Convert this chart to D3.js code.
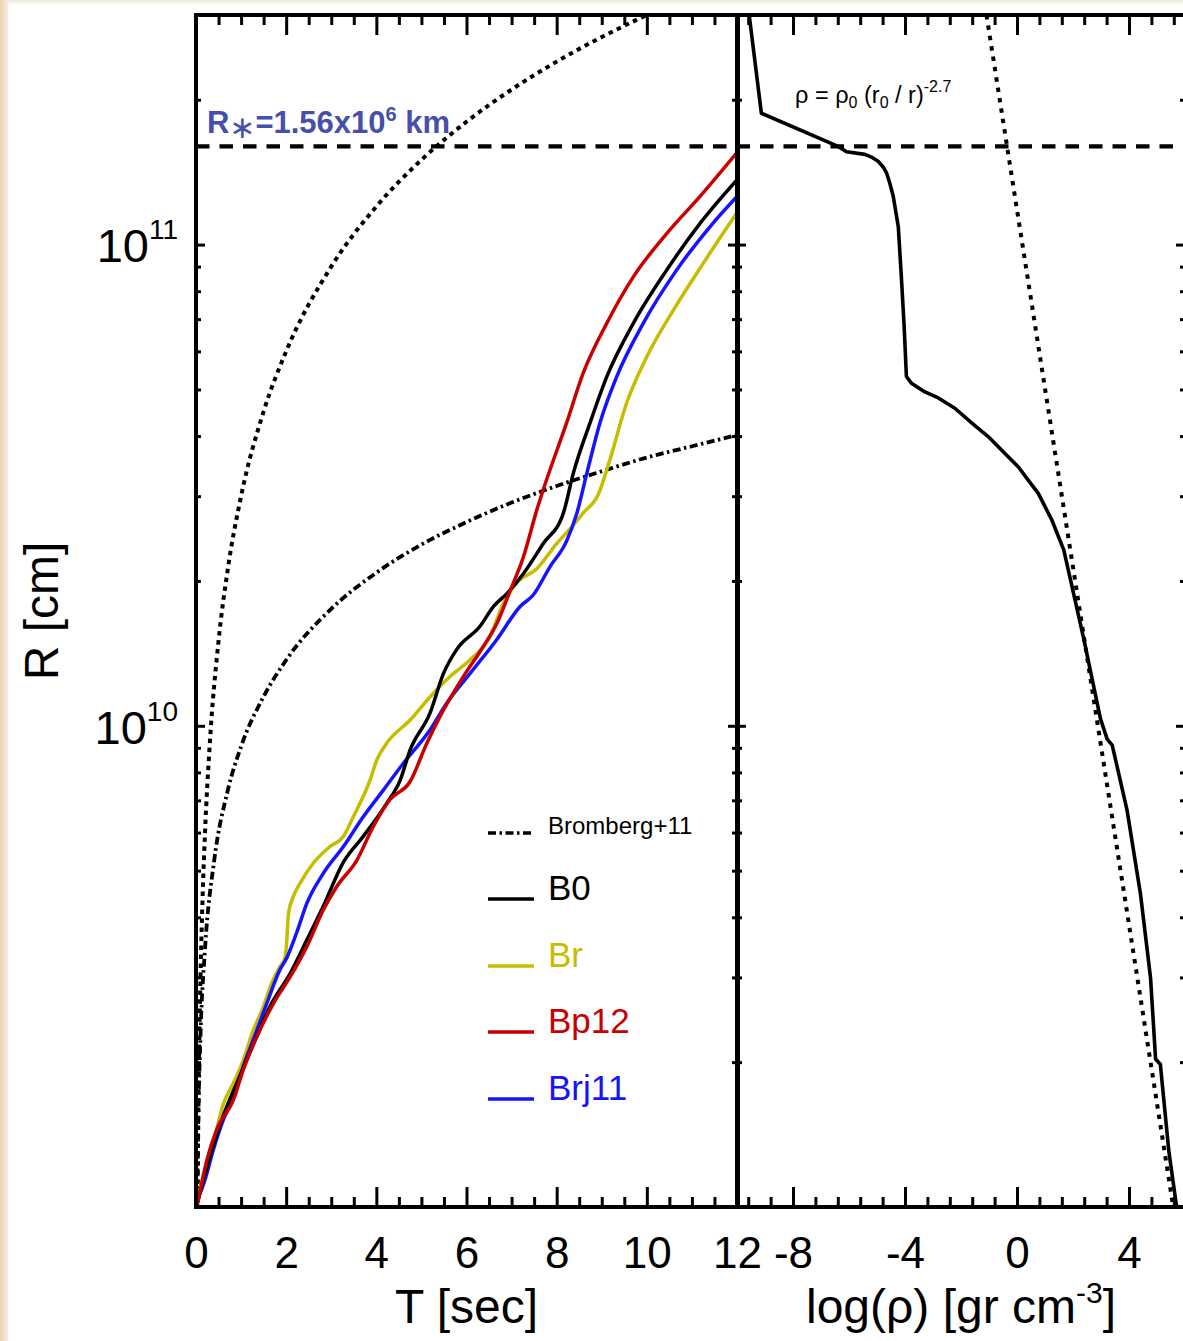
<!DOCTYPE html>
<html><head><meta charset="utf-8">
<script src="https://cdn.jsdelivr.net/npm/d3@7"></script>
<style>
html,body{margin:0;padding:0;background:#fff;}
#frame{position:relative;width:1183px;height:1341px;overflow:hidden;background:#fff;}
#edgeL{position:absolute;left:0;top:0;width:8px;height:1341px;background:linear-gradient(to right,#ecd3b2,#f7ede1);}
#edgeT{position:absolute;left:0;top:0;width:1183px;height:4px;background:linear-gradient(to bottom,#f1e8dd,#fcfaf7);}
svg{position:absolute;left:0;top:0;}
text{font-family:"Liberation Sans",Arial,Helvetica,sans-serif;}
</style></head><body>
<div id="frame"><div id="edgeT"></div><div id="edgeL"></div></div>
<script>
// ---------------- data ----------------
const tickT = [0, 2, 4, 6, 8, 10, 12];
const tickLogRho = [-8, -4, 0, 4];
const yTickValues = [1e10, 1e11];
const yTickBase = ["10", "10"];
const yTickExp = ["10", "11"];
const Rstar = 1.6e11;
const RstarLabel = ["R", "\u2217", "=1.56x10", "6", " km"];

// B0 (black)
const t_B0 = [0.02,0.20,0.53,0.98,1.31,1.64,2.09,2.46,2.82,3.27,3.71,4.23,4.53,4.75,5.19,5.49,5.78,6.30,6.60,6.89,7.26,7.70,8.15,8.37,8.74,9.11,9.70,10.44,11.18,11.99];
const R_B0 = [1.01e9,1.17e9,1.48e9,1.88e9,2.22e9,2.61e9,3.06e9,3.59e9,4.21e9,5.21e9,5.89e9,6.90e9,7.71e9,8.91e9,1.062e10,1.285e10,1.44e10,1.61e10,1.77e10,1.88e10,2.07e10,2.39e10,2.77e10,3.35e10,4.26e10,5.31e10,6.86e10,8.85e10,1.107e11,1.36e11];
// Br (yellow)
const t_Br = [0.05,0.16,0.38,0.61,0.83,1.05,1.27,1.46,1.68,1.86,1.97,2.01,2.05,2.16,2.31,2.60,2.97,3.27,3.49,3.86,4.01,4.23,4.75,5.19,5.63,6.08,6.52,6.82,7.11,7.56,8.00,8.30,8.59,8.92,9.18,9.55,10.00,10.59,11.25,11.99];
const R_Br = [1.05e9,1.16e9,1.36e9,1.64e9,1.81e9,2.02e9,2.33e9,2.56e9,2.92e9,3.16e9,3.29e9,3.53e9,4.07e9,4.42e9,4.71e9,5.18e9,5.61e9,5.89e9,6.47e9,7.71e9,8.49e9,9.20e9,1.028e10,1.148e10,1.265e10,1.371e10,1.531e10,1.80e10,1.98e10,2.12e10,2.39e10,2.57e10,2.77e10,3.02e10,3.57e10,4.68e10,5.85e10,7.31e10,9.14e10,1.161e11];
// Bp12 (red)
const t_Bp12 = [0.02,0.24,0.46,0.83,1.05,1.35,1.72,2.09,2.46,2.82,3.12,3.57,3.93,4.30,4.75,5.12,5.41,5.93,6.37,6.67,6.97,7.26,7.56,7.70,8.22,8.59,9.11,9.70,10.44,11.18,11.99];
const R_Bp12 = [1.00e9,1.25e9,1.45e9,1.67e9,1.93e9,2.26e9,2.65e9,3.01e9,3.48e9,4.14e9,4.63e9,5.26e9,6.17e9,7.02e9,7.66e9,9.20e9,1.045e10,1.265e10,1.46e10,1.63e10,1.91e10,2.24e10,2.81e10,3.09e10,4.26e10,5.41e10,6.86e10,8.57e10,1.054e11,1.26e11,1.55e11];
// Brj11 (blue)
const t_Brj11 = [0.02,0.20,0.38,0.61,0.83,1.05,1.35,1.57,1.86,2.01,2.23,2.46,2.82,3.27,3.71,4.16,4.60,5.19,5.56,6.08,6.67,7.19,7.48,7.85,8.22,8.45,8.67,8.96,9.33,9.92,10.66,11.40,11.99];
const R_Brj11 = [1.03e9,1.14e9,1.31e9,1.52e9,1.69e9,1.96e9,2.33e9,2.65e9,3.11e9,3.29e9,3.71e9,4.28e9,4.93e9,5.61e9,6.47e9,7.36e9,8.36e9,9.80e9,1.114e10,1.285e10,1.51e10,1.77e10,1.87e10,2.14e10,2.42e10,2.77e10,3.35e10,4.26e10,5.31e10,6.86e10,8.85e10,1.089e11,1.256e11];
// Bromberg+11 (dash-dot)
const t_Brom = [0.02,0.03,0.05,0.1,0.2,0.4,0.7,1,1.5,2,3,4,5,6,7,8,9,10,11,12];
const R_Brom = [9.0e8,1.10e9,1.50e9,2.28e9,3.44e9,5.22e9,7.31e9,9.06e9,1.15e10,1.37e10,1.75e10,2.08e10,2.38e10,2.65e10,2.91e10,3.15e10,3.38e10,3.61e10,3.81e10,4.02e10];
// light-speed line (dotted)
const t_c = [0.03,0.05,0.07,0.1,0.15,0.2,0.3,0.5,0.7,1,1.5,2,3,4,5,6,7,8,9,10];
const R_c = [9e8,1.5e9,2.1e9,3e9,4.5e9,6e9,9e9,1.5e10,2.1e10,3e10,4.5e10,6e10,9e10,1.2e11,1.5e11,1.8e11,2.1e11,2.4e11,2.7e11,3.0e11];

// density profile (right panel)
const logRho_prof = [-9.58,-9.13,-6.39,-6.09,-5.43,-5.20,-4.96,-4.78,-4.66,-4.54,-4.42,-4.24,-4.13,-4.03,-3.95,-3.77,-3.29,-2.81,-2.22,-1.62,-1.03,-0.43,0.05,0.40,0.76,1.24,1.67,2.38,2.98,3.22,3.40,3.93,4.41,4.77,4.95,5.12,5.42,5.70];
const R_prof = [3.05e11,1.875e11,1.60e11,1.56e11,1.54e11,1.52e11,1.49e11,1.45e11,1.41e11,1.34e11,1.26e11,1.09e11,8.57e10,6.75e10,5.32e10,5.15e10,4.94e10,4.80e10,4.57e10,4.26e10,3.99e10,3.68e10,3.45e10,3.24e10,3.04e10,2.68e10,2.32e10,1.52e10,1.035e10,9.38e9,9.12e9,6.68e9,4.47e9,2.99e9,2.03e9,1.98e9,1.31e9,1.0e9];
// power law rho ∝ r^-2.7 (dotted)
const logRho_pl = [-1.09, 5.58];
const R_pl = [3.0e11, 1.0e9];

const legendNames = ["Bromberg+11", "B0", "Br", "Bp12", "Brj11"];
const colB0 = "#000000", colBr = "#c8bc00", colBp12 = "#c80000", colBrj11 = "#1414ff";

// ---------------- drawing ----------------
const W = 1183, H = 1341;
const FONT = '"Liberation Sans",Arial,Helvetica,sans-serif';
const svg = d3.select('#frame').append('svg').attr('width', W).attr('height', H);

const xL = d3.scaleLinear().domain([0, 12]).range([196, 737]);
const xR = d3.scaleLinear().domain([-10, 6]).range([737, 1185]);
const y = d3.scaleLog().domain([1e9, 3e11]).range([1207, 15]);

const defs = svg.append('defs');
defs.append('clipPath').attr('id', 'clipL').append('rect')
  .attr('x', xL(0)).attr('y', y(3e11)).attr('width', xL(12) - xL(0)).attr('height', y(1e9) - y(3e11));
defs.append('clipPath').attr('id', 'clipR').append('rect')
  .attr('x', xR(-10)).attr('y', y(3e11)).attr('width', xR(6) - xR(-10)).attr('height', y(1e9) - y(3e11));

const zip = (a, b) => a.map((v, i) => [v, b[i]]);
const lineLs = d3.line().x(d => xL(d[0])).y(d => y(d[1])).curve(d3.curveMonotoneX);
const lineR = d3.line().x(d => xR(d[0])).y(d => y(d[1]));

const gL = svg.append('g').attr('clip-path', 'url(#clipL)');
const gR = svg.append('g').attr('clip-path', 'url(#clipR)');

// dotted light-speed line
gL.append('path').attr('d', lineLs(zip(t_c, R_c))).attr('fill', 'none')
  .attr('stroke', '#000').attr('stroke-width', 4).attr('stroke-dasharray', '4.5,4.5');
// Bromberg dash-dot
gL.append('path').attr('d', lineLs(zip(t_Brom, R_Brom))).attr('fill', 'none')
  .attr('stroke', '#000').attr('stroke-width', 3.8).attr('stroke-dasharray', '8,3.5,2.5,3.5');

const seriesL = [
  [t_Br, R_Br, colBr], [t_Brj11, R_Brj11, colBrj11], [t_B0, R_B0, colB0], [t_Bp12, R_Bp12, colBp12]
];
seriesL.forEach(([t, r, c]) => {
  gL.append('path').attr('d', lineLs(zip(t, r))).attr('fill', 'none')
    .attr('stroke', c).attr('stroke-width', 3.5).attr('stroke-linejoin', 'round');
});

// right panel
gR.append('path').attr('d', lineR(zip(logRho_pl, R_pl))).attr('fill', 'none')
  .attr('stroke', '#000').attr('stroke-width', 4).attr('stroke-dasharray', '4.5,6');
gR.append('path').attr('d', lineR(zip(logRho_prof, R_prof))).attr('fill', 'none')
  .attr('stroke', '#000').attr('stroke-width', 3.6).attr('stroke-linejoin', 'round');

// R* dashed line
svg.append('line').attr('x1', xL(0)).attr('x2', xR(6)).attr('y1', y(Rstar)).attr('y2', y(Rstar))
  .attr('stroke', '#000').attr('stroke-width', 4.2).attr('stroke-dasharray', '13.5,10');

// ---------------- axes ----------------
function styleAxis(sel, fs) {
  sel.select('.domain').remove();
  sel.selectAll('.tick line').attr('stroke', '#000').attr('stroke-width', 3);
  sel.selectAll('.tick text').attr('fill', '#000').style('font-size', (fs || 44) + 'px').style('font-family', FONT);
}
const minorT = d3.range(0, 25).map(k => k * 0.5).filter(v => v % 2 !== 0);
const minorRho = d3.range(-12, 8).filter(k => k % 5 !== 0).map(k => k * 0.8);
const minorY = [];
[1e9, 1e10, 1e11].forEach(d => { for (let m = 2; m <= 9; m++) if (m * d <= 3e11) minorY.push(m * d); });

// bottom / top of left panel
svg.append('g').attr('transform', `translate(0,${y(1e9)})`)
  .call(d3.axisBottom(xL).tickValues(tickT).tickSize(-20).tickPadding(30).tickFormat(d3.format('d'))).call(styleAxis);
svg.append('g').attr('transform', `translate(0,${y(1e9)})`)
  .call(d3.axisBottom(xL).tickValues(minorT).tickSize(-10).tickFormat('')).call(styleAxis);
svg.append('g').attr('transform', `translate(0,${y(3e11)})`)
  .call(d3.axisTop(xL).tickValues(tickT).tickSize(-20).tickFormat('')).call(styleAxis);
svg.append('g').attr('transform', `translate(0,${y(3e11)})`)
  .call(d3.axisTop(xL).tickValues(minorT).tickSize(-10).tickFormat('')).call(styleAxis);
// bottom / top of right panel
svg.append('g').attr('transform', `translate(0,${y(1e9)})`)
  .call(d3.axisBottom(xR).tickValues(tickLogRho).tickSize(-20).tickPadding(30).tickFormat(d3.format('d'))).call(styleAxis);
svg.append('g').attr('transform', `translate(0,${y(1e9)})`)
  .call(d3.axisBottom(xR).tickValues(minorRho).tickSize(-10).tickFormat('')).call(styleAxis);
svg.append('g').attr('transform', `translate(0,${y(3e11)})`)
  .call(d3.axisTop(xR).tickValues(tickLogRho).tickSize(-20).tickFormat('')).call(styleAxis);
svg.append('g').attr('transform', `translate(0,${y(3e11)})`)
  .call(d3.axisTop(xR).tickValues(minorRho).tickSize(-10).tickFormat('')).call(styleAxis);
// hyphen-style minus in right labels
svg.selectAll('.tick text').each(function () { const t = d3.select(this); t.text(t.text().replace('\u2212', '-')); });

// y axes
function yAxes(x0, gen) {
  svg.append('g').attr('transform', `translate(${x0},0)`)
    .call(gen(y).tickValues(yTickValues).tickSize(-9).tickFormat('')).call(styleAxis);
  svg.append('g').attr('transform', `translate(${x0},0)`)
    .call(gen(y).tickValues(minorY).tickSize(-5).tickFormat('')).call(styleAxis);
}
// left axis of left panel with labels
const yl = svg.append('g').attr('transform', `translate(${xL(0)},0)`)
  .call(d3.axisLeft(y).tickValues(yTickValues).tickSize(-9).tickPadding(18).tickFormat((d, i) => yTickBase[i]))
  .call(styleAxis);
yl.selectAll('.tick text').each(function (d, i) {
  const t = d3.select(this);
  t.text(null).attr('dy', '0.37em').style('font-size', '47px');
  t.append('tspan').text(yTickBase[i]);
  t.append('tspan').attr('dy', -23).style('font-size', '28px').text(yTickExp[i]);
});
svg.append('g').attr('transform', `translate(${xL(0)},0)`)
  .call(d3.axisLeft(y).tickValues(minorY).tickSize(-5).tickFormat('')).call(styleAxis);
yAxes(xL(12), d3.axisRight);
yAxes(xR(-10), d3.axisLeft);
yAxes(xR(6), d3.axisRight);

// frames
svg.append('rect').attr('x', xL(0)).attr('y', y(3e11)).attr('width', xL(12) - xL(0)).attr('height', y(1e9) - y(3e11))
  .attr('fill', 'none').attr('stroke', '#000').attr('stroke-width', 4);
svg.append('rect').attr('x', xR(-10)).attr('y', y(3e11)).attr('width', xR(6) - xR(-10)).attr('height', y(1e9) - y(3e11))
  .attr('fill', 'none').attr('stroke', '#000').attr('stroke-width', 4);
svg.append('line').attr('x1', xL(12) + 0.5).attr('x2', xL(12) + 0.5).attr('y1', y(3e11)).attr('y2', y(1e9))
  .attr('stroke', '#000').attr('stroke-width', 5);

// ---------------- texts ----------------
// axis titles
svg.append('text').attr('x', (xL(0) + xL(12)) / 2).attr('y', 1323).attr('text-anchor', 'middle')
  .style('font-size', '48px').text('T [sec]');
const tr = svg.append('text').attr('x', (xR(-10) + xR(6)) / 2).attr('y', 1323).attr('text-anchor', 'middle')
  .style('font-size', '48px');
tr.append('tspan').text('log(\u03c1) [gr cm');
tr.append('tspan').attr('dy', -20).style('font-size', '30px').text('-3');
tr.append('tspan').attr('dy', 20).text(']');
svg.append('text').attr('transform', `translate(58,${(y(1e9) + y(3e11)) / 2}) rotate(-90)`)
  .attr('text-anchor', 'middle').style('font-size', '48px').text('R [cm]');

// R* label
const rs = svg.append('text').attr('x', 207).attr('y', 133).attr('fill', '#4650aa')
  .style('font-size', '31px').style('font-weight', 'bold');
rs.append('tspan').text(RstarLabel[0]);
rs.append('tspan').attr('dy', 5).style('font-size', '31px').style('font-family', '"DejaVu Sans",sans-serif').style('font-weight', 'normal').text(RstarLabel[1]);
rs.append('tspan').attr('dy', -5).text(RstarLabel[2]);
rs.append('tspan').attr('dy', -12).style('font-size', '20px').text(RstarLabel[3]);
rs.append('tspan').attr('dy', 12).text(RstarLabel[4]);

// formula
const fm = svg.append('text').attr('x', 795).attr('y', 103).attr('fill', '#000').style('font-size', '23.5px');
fm.append('tspan').text('\u03c1 = \u03c1');
fm.append('tspan').attr('dy', 5).style('font-size', '16px').text('0');
fm.append('tspan').attr('dy', -5).text(' (r');
fm.append('tspan').attr('dy', 5).style('font-size', '16px').text('0');
fm.append('tspan').attr('dy', -5).text(' / r)');
fm.append('tspan').attr('dy', -11).style('font-size', '16px').text('-2.7');

// legend
const legColors = ["#000", colB0, colBr, colBp12, colBrj11];
const legY = [833, 899, 966, 1032, 1099];
legendNames.forEach((name, i) => {
  svg.append('line').attr('x1', 488).attr('x2', 534).attr('y1', legY[i]).attr('y2', legY[i])
    .attr('stroke', legColors[i]).attr('stroke-width', 3.6)
    .attr('stroke-dasharray', i === 0 ? '8,3.5,2.5,3.5' : null);
  svg.append('text').attr('x', 548).attr('y', legY[i] + 1).attr('fill', legColors[i])
    .style('font-size', i === 0 ? '24px' : '35px').text(name);
});
</script>
</body></html>
